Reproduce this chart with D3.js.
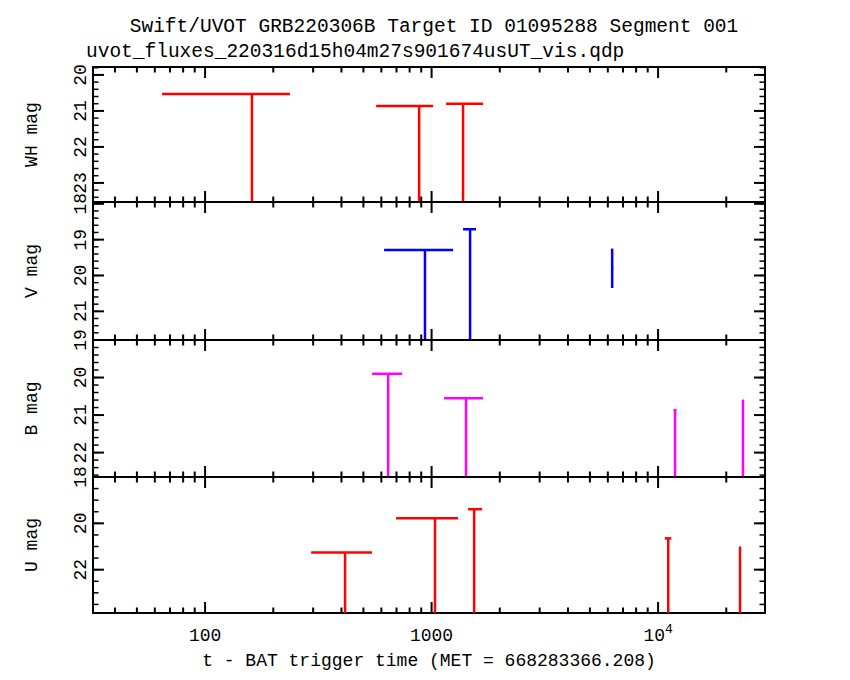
<!DOCTYPE html>
<html><head><meta charset="utf-8">
<script src="https://cdn.jsdelivr.net/npm/d3@7"></script>
<style>body{margin:0;background:#fff}text{font-family:"Liberation Mono",monospace;fill:#000}</style>
</head><body><svg id="c" width="850" height="680"></svg>
<script>
// [t, tmin, tmax, mag, magErr, upperLimit]
const whData=[[161,64.6,237,20.53,0,1],[881,569,1016,20.86,0,1],[1377,1159,1687,20.8,0,1]];
const vData=[[935,617,1245,19.29,0,1],[1479,1377,1571,18.71,0,1],[6270,6200,6340,19.8,0.55,0]];
const bData=[[643,546,741,19.9,0,1],[1419,1135,1687,20.55,0,1],[11880,11700,12060,20.87,0,1],[23700,23600,23800,20.6,0,1]];
const uData=[[415,294,546,21.26,0,1],[1035,697,1309,19.78,0,1],[1541,1449,1671,19.39,0,1],[11090,10700,11450,20.65,0,1],[23000,22800,23200,21.04,0,1]];
const panels=[
 {name:"WH mag",data:whData,dom:[19.78,23.53],ticks:[20,21,22,23],color:"#ff0000"},
 {name:"V mag",data:vData,dom:[17.95,21.8],ticks:[18,19,20,21],color:"#0000ff"},
 {name:"B mag",data:bData,dom:[19,22.65],ticks:[19,20,21,22],color:"#ff00ff"},
 {name:"U mag",data:uData,dom:[18,23.87],ticks:[18,20,22],color:"#ff0000"}];
const xMajor=[100,1000,10000], xLabels=["100","1000","10"];
const svg=d3.select("#c");
const L=93,R=765,tops=[67,202,340,477,613];
const x=d3.scaleLog().domain([32,29650]).range([L,R]);
const minors=[];for(let e=1;e<=4;e++)for(let m=1;m<10;m++){const v=m*10**e;if(v>=32&&v<=29650&&m!==1)minors.push(v);}
panels.forEach((p,i)=>{
 const y0=tops[i],y1=tops[i+1];
 const y=d3.scaleLinear().domain(p.dom).range([y0,y1]);
 const g=svg.append("g");
 g.append("rect").attr("x",L).attr("y",y0).attr("width",R-L).attr("height",y1-y0).attr("fill","none").attr("stroke","#000").attr("stroke-width",2);
 [y0,y1].forEach((yy,k)=>{const d=k?-1:1;
  xMajor.forEach(v=>g.append("line").attr("x1",x(v)).attr("x2",x(v)).attr("y1",yy).attr("y2",yy+d*11).attr("stroke","#000").attr("stroke-width",2));
  minors.forEach(v=>g.append("line").attr("x1",x(v)).attr("x2",x(v)).attr("y1",yy).attr("y2",yy+d*5.5).attr("stroke","#000").attr("stroke-width",2));});
 p.ticks.forEach(t=>{[[L,1],[R,-1]].forEach(([xx,d])=>g.append("line").attr("x1",xx).attr("x2",xx+d*11).attr("y1",y(t)).attr("y2",y(t)).attr("stroke","#000").attr("stroke-width",2));
  g.append("text").attr("transform",`translate(${L-7},${y(t)}) rotate(-90)`).attr("text-anchor","middle").attr("font-size",18).text(t);});
 const stepMinor=i===3?0.5:0.2;
 for(let v=Math.ceil(p.dom[0]/stepMinor)*stepMinor;v<=p.dom[1];v+=stepMinor){
  [[L,1],[R,-1]].forEach(([xx,d])=>g.append("line").attr("x1",xx).attr("x2",xx+d*5.5).attr("y1",y(v)).attr("y2",y(v)).attr("stroke","#000").attr("stroke-width",1.5));}
 g.append("text").attr("transform",`translate(37,${(y0+y1)/2}) rotate(-90)`).attr("text-anchor","middle").attr("font-size",18).text(p.name);
 const clip="clip"+i;
 svg.append("clipPath").attr("id",clip).append("rect").attr("x",L).attr("y",y0).attr("width",R-L).attr("height",y1-y0);
 const dg=svg.append("g").attr("clip-path",`url(#${clip})`).attr("stroke",p.color).attr("stroke-width",2.5);
 p.data.forEach(d=>{
  dg.append("line").attr("x1",x(d[1])).attr("x2",x(d[2])).attr("y1",y(d[3])).attr("y2",y(d[3]));
  if(d[5]) dg.append("line").attr("x1",x(d[0])).attr("x2",x(d[0])).attr("y1",y(d[3])).attr("y2",y1);
  else dg.append("line").attr("x1",x(d[0])).attr("x2",x(d[0])).attr("y1",y(d[3]-d[4])).attr("y2",y(d[3]+d[4]));
 });
});
xMajor.forEach((v,k)=>{const t=svg.append("text").attr("x",x(v)).attr("y",641).attr("text-anchor","middle").attr("font-size",18).text(xLabels[k]);
 if(k===2)t.append("tspan").attr("dy",-8).attr("font-size",13).text("4");});
svg.append("text").attr("x",(L+R)/2).attr("y",666).attr("text-anchor","middle").attr("font-size",18).text("t - BAT trigger time (MET = 668283366.208)");
svg.append("text").attr("x",(L+R)/2+5).attr("y",32).attr("text-anchor","middle").attr("font-size",19.5).text("Swift/UVOT GRB220306B Target ID 01095288 Segment 001");
svg.append("text").attr("x",L-7).attr("y",57).attr("font-size",19.5).text("uvot_fluxes_220316d15h04m27s901674usUT_vis.qdp");
</script></body></html>
